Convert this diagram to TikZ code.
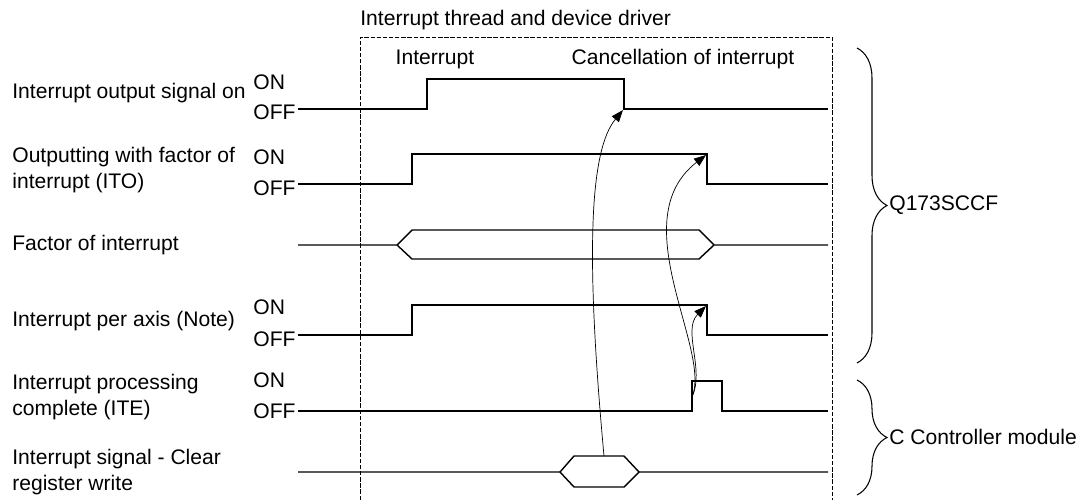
\documentclass[tikz,border=0pt]{standalone}
\usepackage{fontspec}
\setmainfont{Liberation Sans}
\usetikzlibrary{arrows.meta,decorations.pathreplacing}

\begin{document}
\begin{tikzpicture}[
  x=0.02cm, y=-0.02cm,
  every node/.style={inner sep=0pt, font=\fontsize{12}{14.5}\selectfont},
  siglabel/.style={anchor=west, align=left},
  onoff/.style={anchor=west},
  wave/.style={line width=0.8pt},
  cause/.style={line width=0.4pt, -{Triangle[length=2.4mm, width=1.8mm]}},
  threadbox/.style={line width=0.4pt, dash pattern=on 2.5pt off 1pt},
  unitbrace/.style={semithick, decorate, decoration={brace, amplitude=0.6cm}}
]
\useasboundingbox (0,0) rectangle (1085,500);

\node[siglabel] (l1) at (12,93)  {Interrupt output signal on};
\node[siglabel] (l2) at (12,170) {Outputting with factor of\\interrupt (ITO)};
\node[siglabel] (l3) at (12,245) {Factor of interrupt};
\node[siglabel] (l4) at (12,321) {Interrupt per axis (Note)};
\node[siglabel] (l5) at (12,397) {Interrupt processing\\complete (ITE)};
\node[siglabel] (l6) at (12,472) {Interrupt signal - Clear\\register write};

\node[onoff] (on1)  at (253,82)  {ON};
\node[onoff] (off1) at (253,112) {OFF};
\node[onoff] (on2)  at (253,157) {ON};
\node[onoff] (off2) at (253,188) {OFF};
\node[onoff] (on4)  at (253,307) {ON};
\node[onoff] (off4) at (253,339) {OFF};
\node[onoff] (on5)  at (253,380) {ON};
\node[onoff] (off5) at (253,411) {OFF};

\draw[threadbox] (360,500) -- (360,37) -- (832,37) -- (832,500);
\node[anchor=west] (thread) at (360,20) {Interrupt thread and device driver};
\node (irq)    at (435,59) {Interrupt};
\node (cancel) at (683,59) {Cancellation of interrupt};

\draw[wave] (298,109) -- (427,109) -- (427,79) -- (624,79) -- (624,109) -- (828,109);
\draw[wave] (298,184) -- (412,184) -- (412,154) -- (707,154) -- (707,184) -- (828,184);
\draw[wave] (298,245) -- (397,245) -- (412,230) -- (699,230) -- (714,245) -- (828,245);
\draw[wave] (397,245) -- (412,259) -- (699,259) -- (714,245);
\draw[wave] (298,335) -- (412,335) -- (412,305) -- (707,305) -- (707,335) -- (828,335);
\draw[wave] (298,411) -- (692,411) -- (692,381) -- (722,381) -- (722,411) -- (828,411);
\draw[wave] (298,472) -- (560,472) -- (574,456) -- (624,456) -- (639,472) -- (828,472);
\draw[wave] (560,472) -- (574,487) -- (624,487) -- (639,472);

\coordinate (clr)   at (604,456);
\coordinate (ite)   at (692,397);
\coordinate (offo)  at (623,110);
\coordinate (offi)  at (706,155);
\coordinate (offa)  at (706,306);

\draw[cause] (clr) .. controls (585,250) and (590,150) .. (offo);
\draw[cause] (ite) .. controls (712,350) and (622,220) .. (offi);
\draw[cause] (ite) .. controls (705,370) and (682,330) .. (offa);

\coordinate (q1) at (857,48);
\coordinate (q2) at (857,363);
\coordinate (c1) at (857,380);
\coordinate (c2) at (857,495);
\draw[unitbrace] (q1) -- (q2);
\draw[unitbrace] (c1) -- (c2);
\node[anchor=west] (qunit) at (889,205) {Q173SCCF};
\node[anchor=west] (cunit) at (889,437) {C Controller module};
\end{tikzpicture}
\end{document}
